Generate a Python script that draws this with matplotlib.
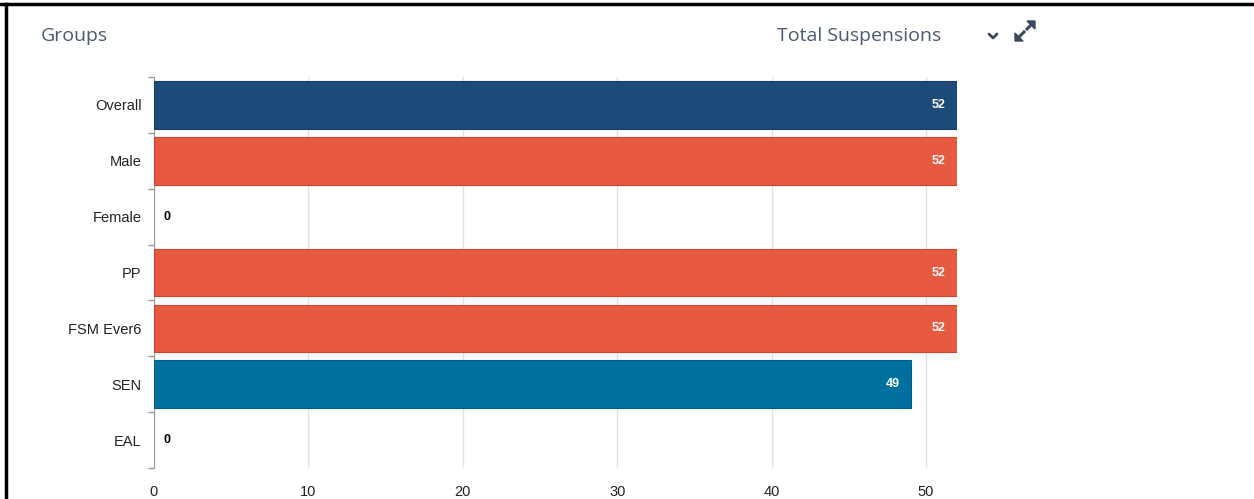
import matplotlib
matplotlib.use("Agg")
import matplotlib.pyplot as plt
from matplotlib.lines import Line2D
from matplotlib.patches import Polygon

groups = ["Overall", "Male", "Female", "PP", "FSM Ever6", "SEN", "EAL"]
suspensions = [52, 52, 0, 52, 52, 49, 0]
bar_colors = ["#1c4b7a", "#e85a3f", "#e85a3f", "#e85a3f", "#e85a3f", "#00719f", "#00719f"]
edge_colors = ["#163d66", "#c8462e", "#c8462e", "#c8462e", "#c8462e", "#005d85", "#005d85"]
x_ticks = [0, 10, 20, 30, 40, 50]

plt.rcParams["font.family"] = ["Liberation Sans", "DejaVu Sans"]

W, H = 1254, 499


def fx(px):
    return px / W


def fy(py):
    return 1 - py / H


fig = plt.figure(figsize=(W / 100, H / 100), dpi=100)
ax = fig.add_axes([fx(154), fy(468), (957 - 154) / W, (468 - 77) / H])

ypos = list(range(len(groups)))
widths = [0.8 if v > 0 else 0 for v in suspensions]
ax.barh(ypos, suspensions, height=0.85, color=bar_colors, edgecolor=edge_colors, linewidth=widths, zorder=3)
ax.set_ylim(len(groups) - 0.5, -0.5)
ax.set_xlim(0, 52)

for y, v in zip(ypos, suspensions):
    if v > 0:
        ax.annotate(str(v), (v, y), xytext=(-8, 0), textcoords="offset points",
                    ha="right", va="center", color="white", fontsize=9, fontweight="bold", zorder=4)
    else:
        ax.annotate(str(v), (v, y), xytext=(7, 0), textcoords="offset points",
                    ha="left", va="center", color="black", fontsize=9, fontweight="bold", zorder=4)

ax.set_xticks(x_ticks)
ax.set_xticklabels([str(t) for t in x_ticks], fontsize=10.5, color="#222222")
ax.tick_params(axis="x", length=0, pad=12)
ax.set_yticks(ypos)
ax.set_yticklabels(groups, fontsize=10.5, color="#222222")
ax.tick_params(axis="y", length=0, pad=9)
ax.set_yticks([i - 0.5 for i in range(len(groups) + 1)], minor=True)
ax.tick_params(axis="y", which="minor", length=4, color="#999999", width=1)
ax.grid(axis="x", color="#e2e2e2", linewidth=1, zorder=0)
for s in ["top", "right", "bottom"]:
    ax.spines[s].set_visible(False)
ax.spines["left"].set_color("#999999")

fig.text(fx(41), fy(36), "Groups", fontsize=14, color="#4a5a70", va="center", ha="left",
         family=["Open Sans", "DejaVu Sans"])
fig.text(fx(941), fy(36), "Total Suspensions", fontsize=14, color="#4a5a70", va="center", ha="right",
         family=["Open Sans", "DejaVu Sans"])

# chevron
fig.add_artist(Line2D([fx(989), fx(993), fx(997)], [fy(34), fy(38), fy(34)],
                      color="#3c4a5c", linewidth=2, solid_capstyle="round", solid_joinstyle="round"))
# expand icon: two diagonal arrows
icon = "#3c4a5c"
fig.add_artist(Line2D([fx(1019), fx(1024)], [fy(37), fy(32)], color=icon, linewidth=2.2))
fig.add_artist(Line2D([fx(1027), fx(1032)], [fy(29), fy(24)], color=icon, linewidth=2.2))
fig.add_artist(Polygon([[fx(1015), fy(41)], [fx(1015), fy(33)], [fx(1023), fy(41)]],
                       closed=True, color=icon, transform=fig.transFigure))
fig.add_artist(Polygon([[fx(1035), fy(21)], [fx(1035), fy(29)], [fx(1027), fy(21)]],
                       closed=True, color=icon, transform=fig.transFigure))

fig.add_artist(Line2D([0, 1], [fy(4), fy(4)], color="black", linewidth=2.5))
fig.add_artist(Line2D([fx(6), fx(6)], [0, fy(4)], color="black", linewidth=2.5))

fig.savefig("out.png", dpi=100)
